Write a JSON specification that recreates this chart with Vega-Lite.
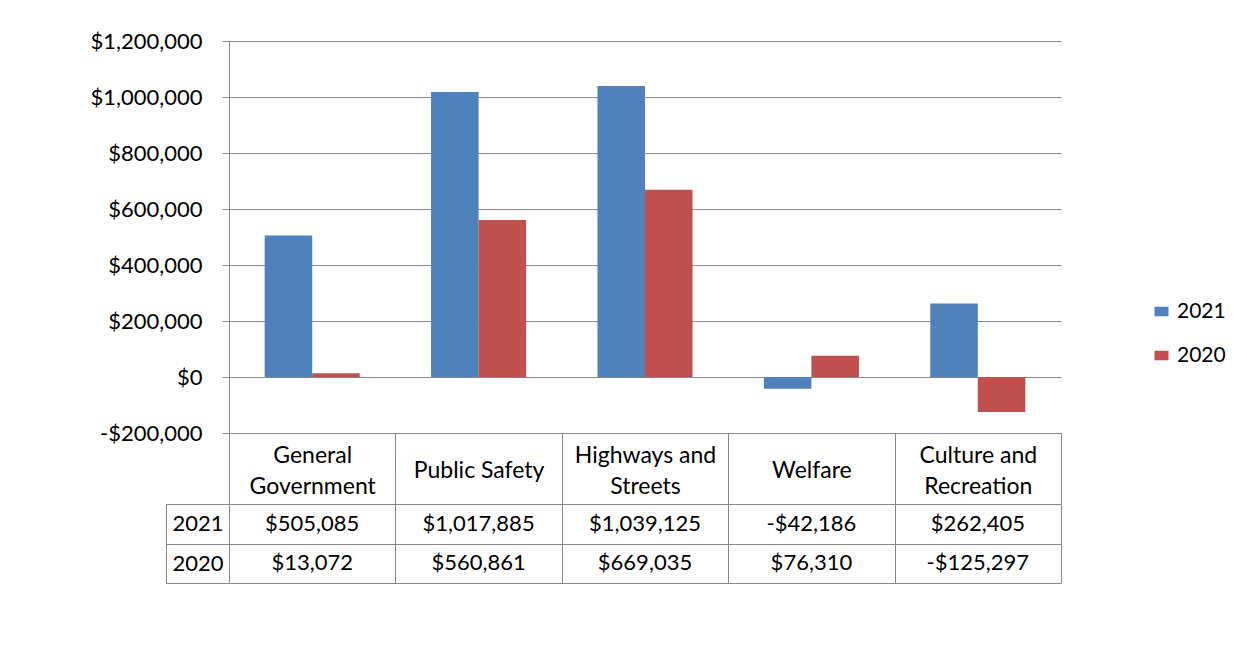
{
  "$schema": "https://vega.github.io/schema/vega-lite/v6.json",
  "padding": {"left": 89, "top": 30, "right": 5, "bottom": 5},
  "background": "white",
  "config": {
    "font": "Lato",
    "view": {"stroke": null},
    "axis": {"labelColor": "#000000", "labelFontSize": 22, "labelFont": "Lato", "domainColor": "#878787", "tickColor": "#878787", "gridColor": "#878787", "titleFontSize": 20},
    "legend": {"labelFontSize": 21, "labelColor": "#000000", "labelFont": "Lato"},
    "text": {"font": "Lato", "fontSize": 22, "color": "#000000"}
  },
  "datasets": {
    "vals": [
      {"category": "General Government", "year": "2021", "value": 505085},
      {"category": "General Government", "year": "2020", "value": 13072},
      {"category": "Public Safety", "year": "2021", "value": 1017885},
      {"category": "Public Safety", "year": "2020", "value": 560861},
      {"category": "Highways and Streets", "year": "2021", "value": 1039125},
      {"category": "Highways and Streets", "year": "2020", "value": 669035},
      {"category": "Welfare", "year": "2021", "value": -42186},
      {"category": "Welfare", "year": "2020", "value": 76310},
      {"category": "Culture and Recreation", "year": "2021", "value": 262405},
      {"category": "Culture and Recreation", "year": "2020", "value": -125297}
    ]
  },
  "spacing": 71,
  "bounds": "flush",
  "vconcat": [
    {
      "width": 832,
      "height": 392,
      "data": {"name": "vals"},
      "mark": {"type": "bar"},
      "encoding": {
        "x": {
          "field": "category", "type": "nominal", "sort": null,
          "scale": {"paddingInner": 0, "paddingOuter": 0},
          "axis": {
            "title": null, "orient": "bottom", "tickBand": "extent", "tickSize": 71,
            "labelPadding": {"condition": {"test": "datum.value == 'Public Safety' || datum.value == 'Welfare'", "value": -33.5}, "value": -48.5},
            "labelBaseline": "middle", "labelAngle": 0, "labelLineHeight": 31, "labelFontSize": 23,
            "labelOverlap": false, "labelLimit": 300,
            "labelExpr": "datum.value == 'General Government' ? ['General', 'Government'] : datum.value == 'Highways and Streets' ? ['Highways and', 'Streets'] : datum.value == 'Culture and Recreation' ? ['Culture and', 'Recreation'] : datum.value"
          }
        },
        "xOffset": {
          "field": "year", "type": "nominal", "sort": ["2021", "2020"],
          "scale": {"paddingInner": 0, "paddingOuter": 0.75}
        },
        "y": {
          "field": "value", "type": "quantitative",
          "scale": {"domain": [-200000, 1200000], "nice": false, "zero": false},
          "axis": {
            "title": null, "values": [-200000, 0, 200000, 400000, 600000, 800000, 1000000, 1200000],
            "grid": true, "tickSize": 7, "labelPadding": 20,
            "labelExpr": "(datum.value < 0 ? '-' : '') + '$' + format(abs(datum.value), ',')"
          }
        },
        "color": {
          "field": "year", "type": "nominal",
          "scale": {"domain": ["2021", "2020"], "range": ["#4F81BD", "#C0504D"]},
          "legend": {
            "title": null, "orient": "none", "legendX": 922, "legendY": 260,
            "symbolType": "M-1,-0.68L1,-0.68L1,0.68L-1,0.68Z", "symbolSize": 196, "symbolStrokeWidth": 0, "rowPadding": 22, "labelOffset": 5
          }
        }
      }
    },
    {
      "width": 832,
      "height": 79,
      "data": {"name": "vals"},
      "transform": [
        {"calculate": "(datum.value < 0 ? '-' : '') + '$' + format(abs(datum.value), ',')", "as": "label"}
      ],
      "mark": {"type": "text", "baseline": "middle", "align": "center"},
      "encoding": {
        "x": {
          "field": "category", "type": "nominal", "sort": null,
          "scale": {"paddingInner": 0, "paddingOuter": 0},
          "axis": {"title": null, "orient": "bottom", "labels": false, "ticks": false, "domain": false, "grid": true, "tickBand": "extent"}
        },
        "y": {
          "field": "year", "type": "nominal", "sort": ["2021", "2020"],
          "scale": {"paddingInner": 0, "paddingOuter": 0},
          "axis": {
            "title": null, "orient": "left", "offset": 63, "tickSize": -63, "tickBand": "extent",
            "grid": true, "domain": true, "labelAlign": "center", "labelBaseline": "middle", "labelPadding": 31.5
          }
        },
        "text": {"field": "label", "type": "nominal"}
      }
    }
  ]
}
